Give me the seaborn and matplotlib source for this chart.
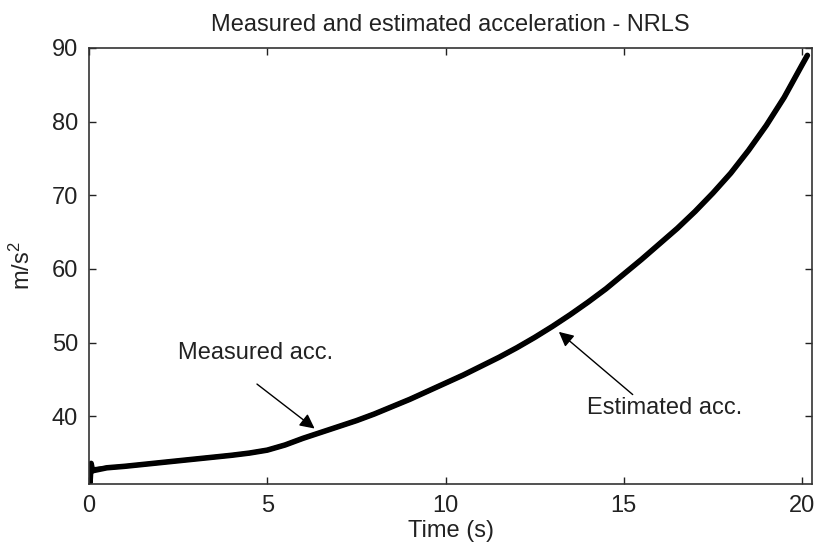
import numpy as np
import pandas as pd
import matplotlib
matplotlib.use("Agg")
import matplotlib.pyplot as plt
import seaborn as sns

# Data
time_s = [0.0, 0.03, 0.06, 0.1, 0.5, 1, 1.5, 2, 2.5, 3, 3.5, 4, 4.5, 5, 5.5, 6, 6.5, 7, 7.5, 8, 8.5, 9, 9.5,
          10, 10.5, 11, 11.5, 12, 12.5, 13, 13.5, 14, 14.5, 15, 15.5, 16, 16.5, 17, 17.5,
          18, 18.5, 19, 19.5, 20, 20.15]
measured_acc = [32.8, 31.0, 33.6, 32.6, 33.0, 33.2, 33.45, 33.7, 33.95, 34.2, 34.45, 34.7, 35.0, 35.4,
                36.1, 37.0, 37.8, 38.6, 39.4, 40.3, 41.3, 42.3, 43.4,
                44.5, 45.6, 46.8, 48.0, 49.3, 50.7, 52.2, 53.8, 55.5, 57.3, 59.3, 61.3, 63.4, 65.5, 67.8, 70.3,
                73.0, 76.1, 79.5, 83.3, 87.7, 89.0]
estimated_acc = [32.8, 32.8, 32.8, 32.8, 33.0, 33.2, 33.45, 33.7, 33.95, 34.2, 34.45, 34.7, 35.0, 35.4,
                 36.1, 37.0, 37.8, 38.6, 39.4, 40.3, 41.3, 42.3, 43.4,
                 44.5, 45.6, 46.8, 48.0, 49.3, 50.7, 52.2, 53.8, 55.5, 57.3, 59.3, 61.3, 63.4, 65.5, 67.8, 70.3,
                 73.0, 76.1, 79.5, 83.3, 87.7, 89.0]
xticks = [0, 5, 10, 15, 20]
yticks = [40, 50, 60, 70, 80, 90]

sns.set_theme(style="white")
plt.rcParams['font.family'] = ['Liberation Sans', 'DejaVu Sans']
plt.rcParams['mathtext.default'] = 'regular'

df = pd.DataFrame({"t": time_s, "meas": measured_acc, "est": estimated_acc})

fig = plt.figure(figsize=(8.14, 5.51), dpi=100)
ax = fig.add_axes([89/814, 1-484/551, (812-89)/814, (484-48)/551])

sns.lineplot(data=df, x="t", y="meas", ax=ax, color="black", linewidth=4.0, estimator=None)
sns.lineplot(data=df, x="t", y="est", ax=ax, color="black", linewidth=3.0, estimator=None)

ax.set_xlim(0, 20.28)
ax.set_ylim(30.8, 90)
ax.set_xticks(xticks)
ax.set_yticks(yticks)
ax.tick_params(direction="in", length=5, width=1, colors="#222222", labelsize=17,
               top=True, right=True, bottom=True, left=True, labelcolor="#222222", pad=8)
for s in ax.spines.values():
    s.set_color("#333333")
    s.set_linewidth(1.2)

ax.set_xlabel("Time (s)", fontsize=17, color="#222222", labelpad=2)
ax.set_ylabel("m/s$^2$", fontsize=17, color="#222222", labelpad=12)
ax.set_title("Measured and estimated acceleration - NRLS", fontsize=17, color="#222222", pad=12)

ax.annotate("", xy=(6.39, 38.1), xytext=(4.65, 44.6),
            arrowprops=dict(arrowstyle="-|>", color="black", lw=1.0, mutation_scale=22))
ax.text(2.5, 48.56, "Measured acc.", fontsize=17, color="#222222", va="center", ha="left")

ax.annotate("", xy=(13.12, 51.7), xytext=(15.31, 42.7),
            arrowprops=dict(arrowstyle="-|>", color="black", lw=1.0, mutation_scale=22))
ax.text(13.96, 41.1, "Estimated acc.", fontsize=17, color="#222222", va="center", ha="left")

fig.savefig("out.png", dpi=100)
